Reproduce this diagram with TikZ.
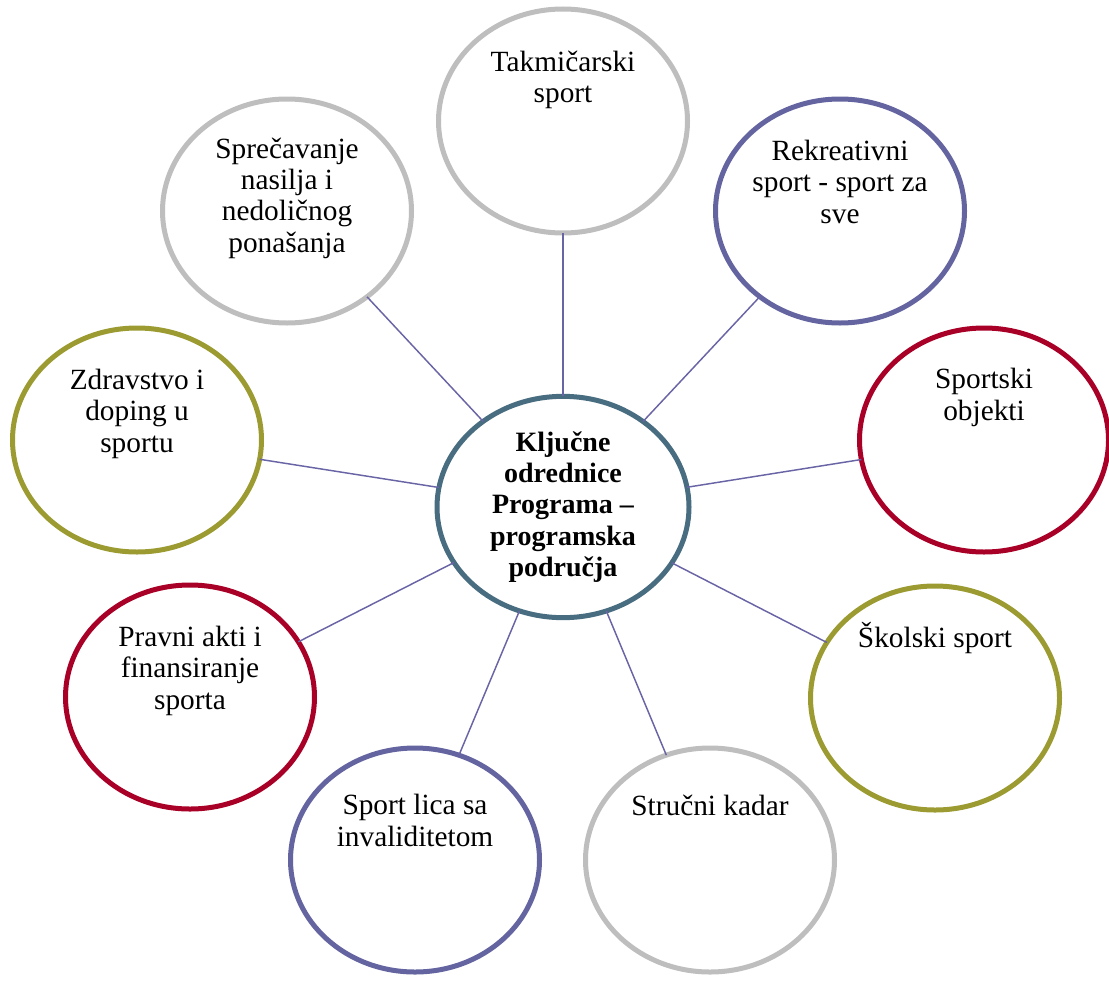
\documentclass[tikz,border=0pt]{standalone}
\usepackage{fontspec}
\setmainfont{Liberation Serif}
\usetikzlibrary{shapes.geometric}
\definecolor{cgray}{RGB}{190,190,190}
\definecolor{cpurp}{RGB}{100,100,160}
\definecolor{cred}{RGB}{168,0,38}
\definecolor{colive}{RGB}{155,155,50}
\definecolor{cslate}{RGB}{72,108,128}
\definecolor{cline}{RGB}{105,100,165}
\tikzset{
  bubble/.style={ellipse, draw, line width=3.75pt, minimum width=186.75pt, minimum height=168pt, inner sep=0pt, outer sep=0pt, fill=white},
  hub/.style={ellipse, draw=cslate, line width=3.75pt, minimum width=189pt, minimum height=166pt, inner sep=0pt, outer sep=0pt, fill=white, align=center, font=\fontsize{21}{23.5}\selectfont\bfseries},
  lbl/.style={anchor=base, align=center, inner sep=0pt, font=\fontsize{22}{23.5}\selectfont},
  conn/.style={draw=cline, line width=1.1pt}
}
\begin{document}
\begin{tikzpicture}[x=0.75pt,y=-0.75pt]
\useasboundingbox (0,0) rectangle (1109,981);
% outer bubbles
\node[bubble, draw=cgray]  (tak) at (563,121) {};
\node[bubble, draw=cpurp]  (rek) at (840,211) {};
\node[bubble, draw=cred]   (obj) at (984,440) {};
\node[bubble, draw=colive] (sko) at (935,698) {};
\node[bubble, draw=cgray]  (str) at (710,860) {};
\node[bubble, draw=cpurp]  (inv) at (415,860) {};
\node[bubble, draw=cred]   (pra) at (190,697) {};
\node[bubble, draw=colive] (zdr) at (137,440) {};
\node[bubble, draw=cgray]  (spr) at (287,211) {};
% hub
\node[hub] (hub) at (563,507) {Ključne\\odrednice\\Programa –\\programska\\područja};
% connectors
\foreach \n in {tak,rek,obj,sko,str,inv,pra,zdr,spr}
  \draw[conn] (hub) -- (\n);
% labels (anchor = baseline of last line)
\node[lbl] (takT) at (563,103) {Takmičarski\\sport};
\node[lbl] (rekT) at (840,223) {Rekreativni\\sport - sport za\\sve};
\node[lbl] (objT) at (984,420) {Sportski\\objekti};
\node[lbl] (skoT) at (935,647) {Školski sport};
\node[lbl] (strT) at (710,815) {Stručni kadar};
\node[lbl] (invT) at (415,846) {Sport lica sa\\invaliditetom};
\node[lbl] (praT) at (190,709) {Pravni akti i\\finansiranje\\sporta};
\node[lbl] (zdrT) at (137,452) {Zdravstvo i\\doping u\\sportu};
\node[lbl] (sprT) at (287,252) {Sprečavanje\\nasilja i\\nedoličnog\\ponašanja};
\end{tikzpicture}
\end{document}
